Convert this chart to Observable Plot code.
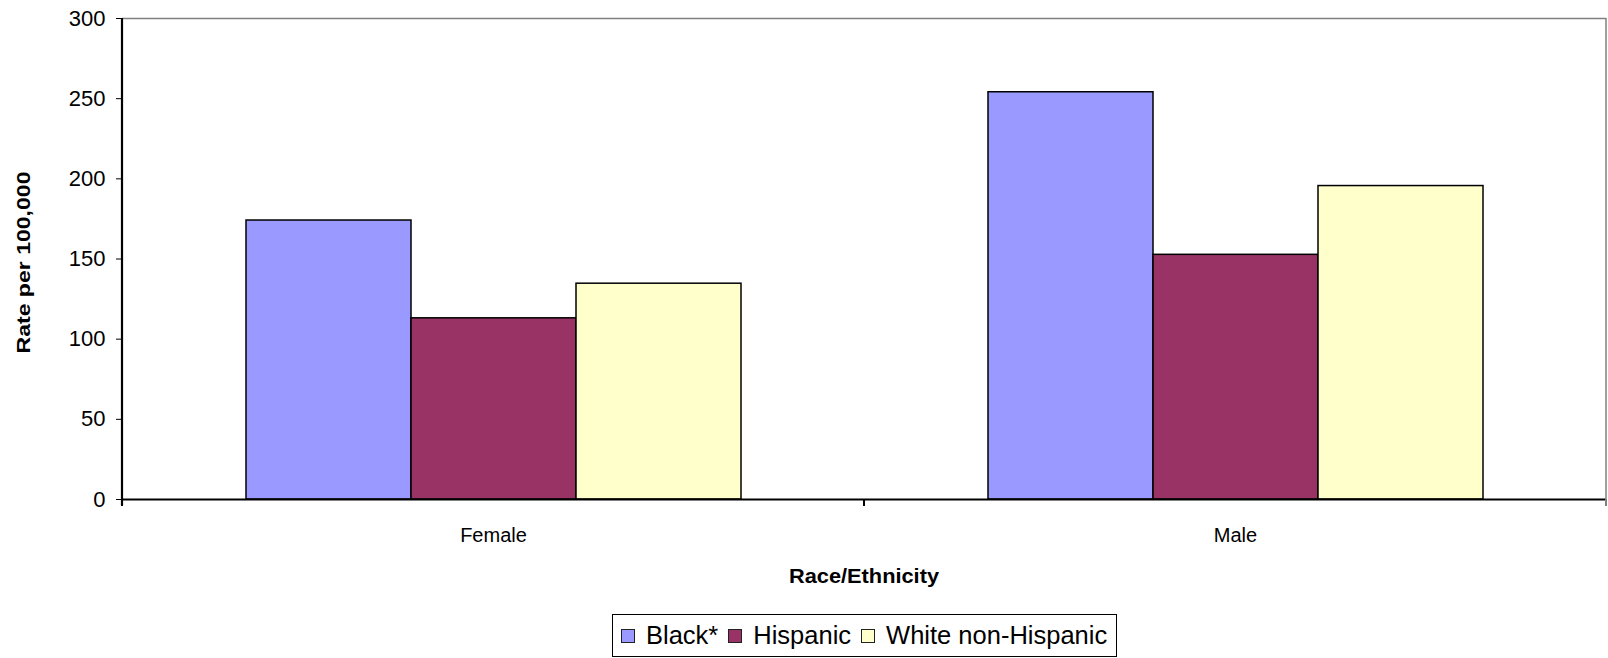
<!DOCTYPE html>
<html>
<head>
<meta charset="utf-8">
<script src="https://cdn.jsdelivr.net/npm/d3@7"></script>
<script src="https://cdn.jsdelivr.net/npm/@observablehq/plot@0.6"></script>
<style>
  html, body { margin: 0; padding: 0; background: #fff; overflow: hidden; }
  body { font-family: "Liberation Sans", Arial, sans-serif; }
  #legend {
    display: inline-flex; align-items: center; box-sizing: border-box;
    margin-left: 612px; margin-top: 2px; height: 43px;
    border: 1px solid #000; padding: 0 9px 0 8px;
    font-family: "Liberation Sans", Arial, sans-serif; font-size: 25.5px; color: #000;
  }
  #legend .item { display: inline-flex; align-items: center; margin-right: 10px; }
  #legend .item:last-child { margin-right: 0; }
  #legend .sw { width: 12px; height: 12px; border: 1px solid #222; margin-right: 11px; }
</style>
</head>
<body>
<div id="chart"></div>
<div id="legend"></div>
<script>
const sexes = ["Female", "Male"];
const races = ["Black*", "Hispanic", "White non-Hispanic"];
const blackValues = [174, 254];
const hispanicValues = [113, 152.6];
const whiteValues = [134.6, 195.5];
const yTicks = [0, 50, 100, 150, 200, 250, 300];
const colors = ["#9999FF", "#993366", "#FFFFCC"];
const yTitle = "Rate per 100,000";
const xTitle = "Race/Ethnicity";

const seriesValues = [blackValues, hispanicValues, whiteValues];
const data = sexes.flatMap((s, i) =>
  races.map((r, j) => ({sex: s, race: r, value: seriesValues[j][i]})));

const W = 1608, H = 612;
const chart = Plot.plot({
  width: W, height: H,
  marginLeft: 121, marginRight: 2, marginTop: 18, marginBottom: 113,
  style: {fontFamily: "'Liberation Sans', Arial, sans-serif", fontSize: "20px", background: "white", color: "black"},
  fx: {domain: sexes, padding: 0, label: null, axis: "bottom", tickSize: 0, tickPadding: 28},
  x: {domain: races, paddingInner: 0, paddingOuter: 0.745, axis: null},
  y: {domain: [0, 300], ticks: yTicks, tickSize: 6, tickPadding: 11, label: null},
  color: {domain: races, range: colors},
  marks: [
    Plot.barY(data, {fx: "sex", x: "race", y: "value", fill: "race", stroke: "black", strokeWidth: 1.5}),
    Plot.ruleY([300], {stroke: "#808080", strokeWidth: 1.5}),
    Plot.ruleY([0], {stroke: "black", strokeWidth: 2.2})
  ]
});
document.getElementById("chart").appendChild(chart);

const svg = d3.select(chart);
// larger y tick labels
svg.selectAll('g[aria-label="y-axis tick label"] text, g[aria-label="y-axis"] text')
  .attr("font-size", 22).style("font-size", "22px");

// Axis lines, frame border and boundary ticks from Plot's scales
const fx = chart.scale("fx");
const y = chart.scale("y");
const y0 = y.apply(0), yTop = y.apply(300);
const left = fx.apply(sexes[0]);
const bounds = sexes.map(s => fx.apply(s)).concat([fx.apply(sexes[sexes.length - 1]) + fx.bandwidth]);
const right = bounds[bounds.length - 1];
const g = svg.append("g");
g.append("line").attr("x1", right).attr("x2", right).attr("y1", yTop).attr("y2", y0)
  .attr("stroke", "#808080").attr("stroke-width", 1.5);
g.append("line").attr("x1", left).attr("x2", left).attr("y1", yTop).attr("y2", y0 + 6)
  .attr("stroke", "black").attr("stroke-width", 2.2);
bounds.forEach(b => g.append("line").attr("x1", b).attr("x2", b).attr("y1", y0).attr("y2", y0 + 7)
  .attr("stroke", b === right ? "#808080" : "black").attr("stroke-width", 2));
// axis titles
svg.append("text").text(yTitle)
  .attr("transform", `translate(30,${(yTop + y0) / 2 + 4}) rotate(-90)`)
  .attr("text-anchor", "middle").attr("font-weight", "bold").attr("font-size", 19)
  .attr("textLength", 182).attr("lengthAdjust", "spacingAndGlyphs")
  .attr("font-family", "'Liberation Sans', Arial, sans-serif");
svg.append("text").text(xTitle)
  .attr("x", (left + right) / 2).attr("y", 583)
  .attr("text-anchor", "middle").attr("font-weight", "bold").attr("font-size", 20)
  .attr("textLength", 150).attr("lengthAdjust", "spacingAndGlyphs")
  .attr("font-family", "'Liberation Sans', Arial, sans-serif");

// Legend
const legend = d3.select("#legend");
races.forEach((r, i) => {
  const it = legend.append("span").attr("class", "item");
  it.append("span").attr("class", "sw").style("background", colors[i]);
  it.append("span").text(r);
});
</script>
</body>
</html>
